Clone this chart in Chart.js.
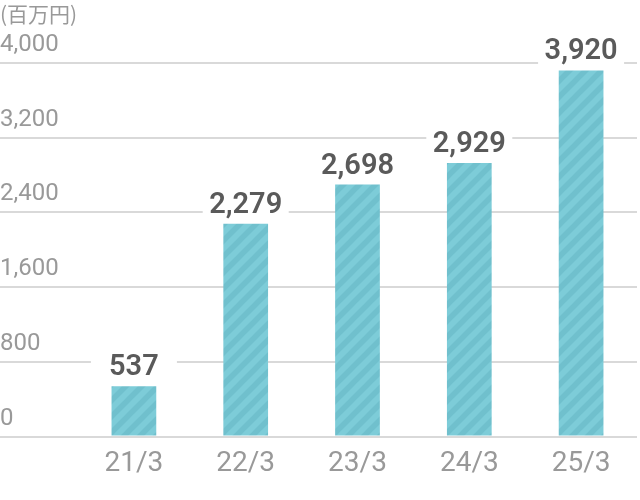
<!DOCTYPE html>
<html>
<head>
<meta charset="utf-8">
<script src="https://cdn.jsdelivr.net/npm/chart.js@4"></script>
<style>
  html, body { margin: 0; padding: 0; background: #fff; }
  #wrap { width: 640px; height: 500px; }
</style>
</head>
<body>
<div id="wrap"><canvas id="myChart"></canvas></div>
<script>
let years = ["21/3", "22/3", "23/3", "24/3", "25/3"];
let sales = [537, 2279, 2698, 2929, 3920];
let yTicks = [0, 800, 1600, 2400, 3200, 4000];
let unitLabel = "(百万円)";

// striped fill for the bars
function stripes() {
    let c = document.createElement("canvas");
    c.width = 16;
    c.height = 16;
    let g = c.getContext("2d");
    g.fillStyle = "#7dccd8";
    g.fillRect(0, 0, 16, 16);
    g.strokeStyle = "#70c0cd";
    g.lineWidth = 5.5;
    g.beginPath();
    g.moveTo(-4, 20); g.lineTo(20, -4);
    g.moveTo(-12, 12); g.lineTo(12, -12);
    g.moveTo(4, 28); g.lineTo(28, 4);
    g.stroke();
    return g.createPattern(c, "repeat");
}

let labelsPlugin = {
    id: "valueLabels",
    afterDatasetsDraw(chart) {
        let ctx = chart.ctx;
        let meta = chart.getDatasetMeta(0);
        ctx.save();
        ctx.font = "600 29px Roboto";
        ctx.textAlign = "center";
        ctx.textBaseline = "alphabetic";
        meta.data.forEach((bar, i) => {
            let base = bar.y - 11;
            ctx.fillStyle = "#fff";
            ctx.fillRect(bar.x - 43, base - 27, 86, 32);
            ctx.fillStyle = "#5a5a5a";
            ctx.fillText(sales[i].toLocaleString("en-US"), bar.x, base);
        });
        ctx.font = "21px 'Noto Sans CJK JP'";
        ctx.fillStyle = "#999";
        ctx.textAlign = "left";
        ctx.textBaseline = "middle";
        ctx.fillText(unitLabel, 0, 14);
        ctx.restore();
    }
};

let myChart = document.getElementById("myChart").getContext("2d");

let salesChart = new Chart(myChart, {
    type: "bar",
    data: {
        labels: years,
        datasets: [
            {
                label: "売上高",
                data: sales,
                backgroundColor: stripes(),
                borderWidth: 0,
                barPercentage: 0.4,
                categoryPercentage: 1
            }
        ]
    },
    options: {
        responsive: true,
        maintainAspectRatio: false,
        animation: false,
        layout: { padding: { top: 63, right: 3, left: 0, bottom: 0 } },
        plugins: {
            legend: { display: false },
            tooltip: { enabled: false }
        },
        scales: {
            x: {
                grid: { display: false, drawTicks: false },
                border: { display: false },
                ticks: { color: "#999", font: { family: "Roboto", size: 28 }, padding: 11 },
                afterFit(s) { s.height = 63.5; }
            },
            y: {
                min: 0,
                max: 4000,
                afterBuildTicks(s) { s.ticks = yTicks.map(v => ({ value: v })); },
                ticks: {
                    color: "#999",
                    font: { family: "Roboto", size: 24 },
                    crossAlign: "far",
                    labelOffset: -18,
                    padding: 0,
                    callback: v => v.toLocaleString("en-US")
                },
                grid: { color: "#d9d9d9", lineWidth: 2, tickLength: 78, tickColor: "#d9d9d9" },
                border: { display: false },
                afterFit(s) { s.width = 78; }
            }
        }
    },
    plugins: [labelsPlugin]
});
</script>
</body>
</html>
